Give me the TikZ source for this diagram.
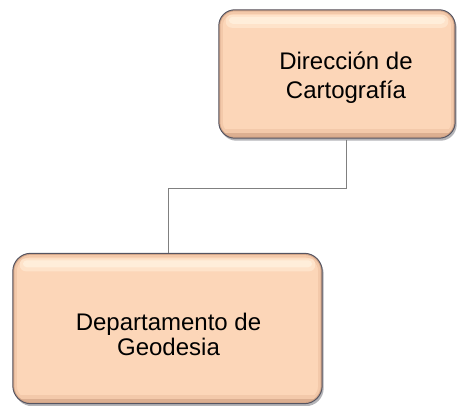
\documentclass[tikz,border=0pt]{standalone}
\usepackage{fontspec}
\setmainfont{Liberation Sans}
\usetikzlibrary{calc}
\definecolor{peach}{RGB}{252,214,184}
\definecolor{peachhi}{RGB}{255,238,218}
\definecolor{peachhi2}{RGB}{254,227,202}
\definecolor{peachmid}{RGB}{243,201,170}
\definecolor{peachdark}{RGB}{212,166,136}
\definecolor{edgegray}{RGB}{85,85,98}
\definecolor{shadowgray}{RGB}{180,180,184}
\definecolor{linegray}{RGB}{128,128,128}
\tikzset{
  orgbox/.style={fill=peach, draw=none, inner sep=0pt},
  orglabel/.style={font=\fontsize{24}{29}\selectfont, align=center, text=black, inner sep=0pt},
  link/.style={draw=linegray, line width=0.8pt}
}
% bevel decoration around a named box node: #1 name, #2 corner radius
\newcommand{\bevelbox}[2]{%
  \begin{scope}
    \clip[rounded corners=#2] (#1.south west) rectangle (#1.north east);
    \draw[peachmid, line width=8pt, rounded corners=#2] (#1.south west) rectangle (#1.north east);
    \fill[peachmid] ($(#1.south west)$) rectangle ($(#1.south east)+(0,9)$);
    \fill[peachdark!75!peachmid] ($(#1.south west)$) rectangle ($(#1.south east)+(0,5)$);
    \draw[peachdark, line width=3pt, rounded corners=#2] (#1.south west) rectangle (#1.north east);
    \fill[peachhi2, rounded corners=6pt] ($(#1.north west)+(7,-5)$) rectangle ($(#1.north east)+(-7,-18)$);
    \fill[peachhi, rounded corners=4pt] ($(#1.north west)+(10,-7)$) rectangle ($(#1.north east)+(-10,-14)$);
  \end{scope}
  \draw[edgegray, line width=1pt, rounded corners=#2] (#1.south west) rectangle (#1.north east);
}
\newcommand{\shadowbox}[2]{%
  \fill[shadowgray, rounded corners=#2] ($(#1.south west)+(1.5,-2.5)$) rectangle ($(#1.north east)+(1.5,-2.5)$);
}
\begin{document}
\begin{tikzpicture}[x=1pt,y=1pt]
\useasboundingbox (0,0) rectangle (459,406);
\coordinate (topc) at (337,332);
\coordinate (botc) at (167.5,77.5);
\path (topc) node[minimum width=236pt, minimum height=128pt, inner sep=0pt] (topsh) {};
\path (botc) node[minimum width=309pt, minimum height=150pt, inner sep=0pt] (botsh) {};
\shadowbox{topsh}{16pt}
\shadowbox{botsh}{18pt}
\node[orgbox, rounded corners=16pt, minimum width=236pt, minimum height=128pt] (top) at (topc) {};
\node[orgbox, rounded corners=18pt, minimum width=309pt, minimum height=150pt] (bot) at (botc) {};
\bevelbox{top}{16pt}
\bevelbox{bot}{18pt}
\node[orglabel] (toplbl) at (346,328) {Dirección de\\Cartografía};
\node[orglabel, font=\fontsize{24}{25}\selectfont] (botlbl) at (168.5,72) {Departamento de\\Geodesia};
\coordinate (bend) at ($(top.south)+(9,-1.5)$);
\coordinate (drop) at ($(bot.north)+(0.5,0)$);
\draw[link] (bend) |- ($(drop)+(0,65)$) -- (drop);
\end{tikzpicture}
\end{document}
